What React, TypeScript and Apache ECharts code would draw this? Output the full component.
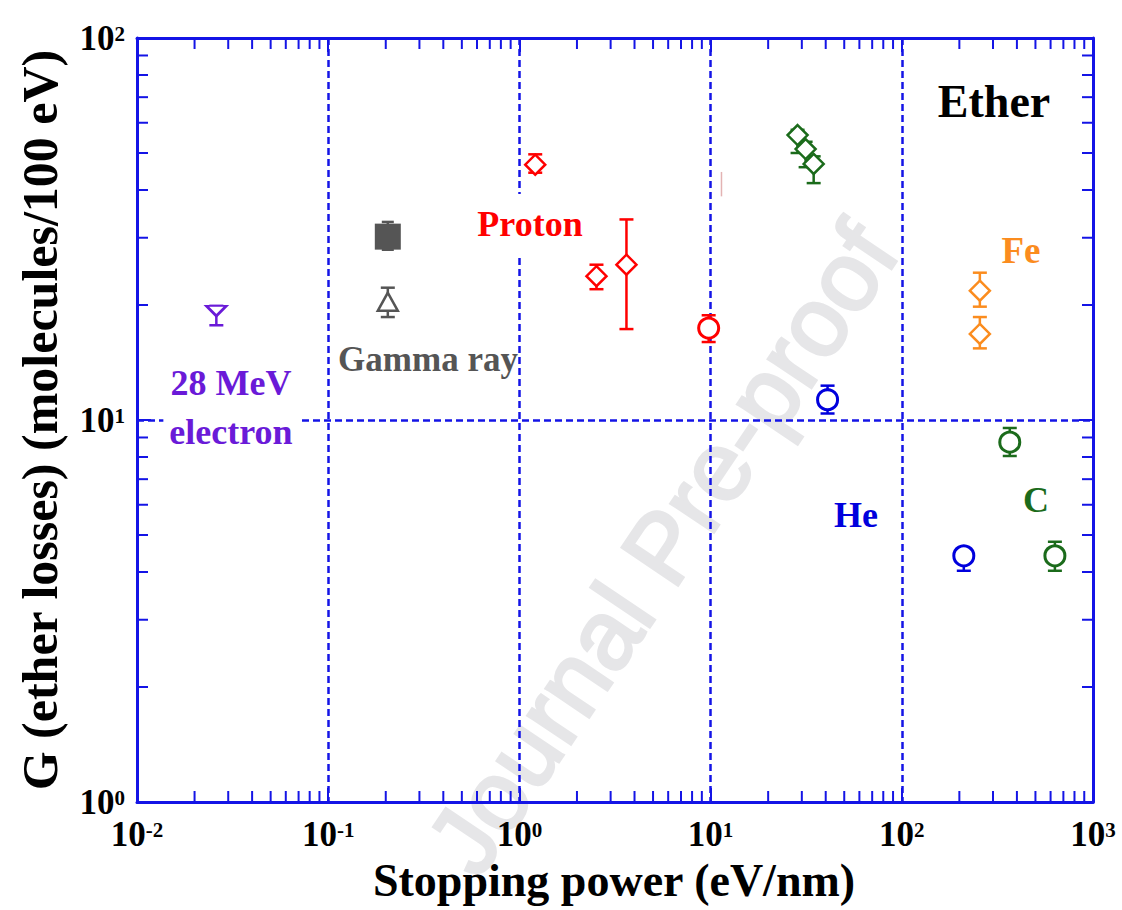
import React, { useEffect, useRef } from "react";
import * as echarts from "echarts";

// [stopping power, G value, error low, error high]
const electron = [[0.026, 19.3, 17.7, 19.9]];
const gammaSquare = [[0.205, 30.2, 27.9, 33.0]];
const gammaTriangle = [[0.205, 20.4, 18.6, 22.2]];
const protonDiamond = [
  [1.21, 46.6, 44.4, 49.6],
  [2.53, 23.8, 22.0, 25.5],
  [3.63, 25.5, 17.3, 33.5],
];
const protonCircle = [[9.77, 17.4, 16.0, 18.8]];
const carbonDiamond = [
  [28.5, 55.7, 50.0, 57.5],
  [31.4, 51.2, 45.9, 53.5],
  [34.6, 46.8, 41.7, 49.0],
];
const ironDiamond = [
  [256, 21.8, 19.8, 24.3],
  [256, 16.8, 15.4, 18.6],
];
const heliumCircle = [
  [40.9, 11.3, 10.4, 12.3],
  [211, 4.41, 4.03, 4.6],
];
const carbonCircle = [
  [367, 8.75, 8.05, 9.53],
  [632, 4.41, 4.03, 4.8],
];
const strayMark = [[11.4, 41.0, 38.5, 44.6]];

const xRange = [0.01, 1000];
const yRange = [1, 100];
const xDecades = [-2, -1, 0, 1, 2];
const yDecades = [0, 1];
const minorDigits = [2, 3, 4, 5, 6, 7, 8, 9];

const BLUE = "#1414e6";
const SERIF = "'Liberation Serif', 'Times New Roman', serif";
const SANS = "'Liberation Sans', Arial, sans-serif";

const DIAMOND = "path://M0,-10L10,0L0,10L-10,0Z";
const TRI_DOWN = "path://M-10,-5L10,-5L0,5Z";

const xMinor = xDecades.flatMap((k) => minorDigits.map((d) => [d * Math.pow(10, k)]));
const yMinor = yDecades.flatMap((k) => minorDigits.map((d) => [d * Math.pow(10, k)]));

function errorBars(name: string, data: number[][], color: string, hw: number, lw = 2.5) {
  return {
    name: name + "-err",
    type: "custom",
    xAxisIndex: 0,
    yAxisIndex: 0,
    clip: false,
    z: 3,
    data,
    encode: { x: 0, y: 1 },
    renderItem: (params: any, api: any) => {
      const x = api.value(0);
      const lo = api.coord([x, api.value(2)]);
      const hi = api.coord([x, api.value(3)]);
      const style = { stroke: color, lineWidth: lw, fill: "none" };
      const children: any[] = [
        { type: "line", shape: { x1: lo[0], y1: lo[1], x2: hi[0], y2: hi[1] }, style },
      ];
      if (hw > 0) {
        children.push(
          { type: "line", shape: { x1: lo[0] - hw, y1: lo[1], x2: lo[0] + hw, y2: lo[1] }, style },
          { type: "line", shape: { x1: hi[0] - hw, y1: hi[1], x2: hi[0] + hw, y2: hi[1] }, style }
        );
      }
      return { type: "group", children };
    },
  };
}

function markers(name: string, data: number[][], color: string, symbol: string, size: any, fill = "#ffffff", bw = 2.5) {
  return {
    name,
    type: "scatter",
    xAxisIndex: 0,
    yAxisIndex: 0,
    z: 4,
    data: data.map((d) => [d[0], d[1]]),
    symbol,
    symbolSize: size,
    itemStyle: { color: fill, borderColor: color, borderWidth: bw, opacity: 1 },
  };
}

const labelFmt = (v: number) => `{b|10}{s|${Math.round(Math.log10(v))}}`;
const labelRich = {
  b: { fontFamily: SERIF, fontWeight: "bold", fontSize: 35, color: "#000", lineHeight: 30 },
  s: { fontFamily: SERIF, fontWeight: "bold", fontSize: 21, color: "#000", verticalAlign: "top", lineHeight: 30, padding: [0, 0, 14, 0] },
};

function axisBase(extra: any) {
  return {
    type: "log",
    logBase: 10,
    axisLine: { show: true, onZero: false, lineStyle: { color: BLUE, width: 3 } },
    axisTick: { show: true, inside: true, length: 14, lineStyle: { color: BLUE, width: 2 } },
    minorTick: { show: false },
    splitLine: { show: false },
    ...extra,
  };
}

export default function App() {
  const ref = useRef<HTMLDivElement>(null);
  useEffect(() => {
    if (!ref.current) return;
    const chart = echarts.init(ref.current, undefined, { renderer: "svg" });
    const minorTickSeries = (data: number[][], dir: "x" | "y") => ({
      name: "minor-" + dir,
      type: "custom",
      xAxisIndex: 0,
      yAxisIndex: 0,
      clip: false,
      silent: true,
      z: 2,
      data,
      encode: dir === "x" ? { x: 0 } : { y: 0 },
      renderItem: (params: any, api: any) => {
        const cs = params.coordSys;
        const L = 11;
        const style = { stroke: BLUE, lineWidth: 2 };
        if (dir === "x") {
          const px = api.coord([api.value(0), yRange[0]])[0];
          return {
            type: "group",
            children: [
              { type: "line", shape: { x1: px, y1: cs.y + cs.height, x2: px, y2: cs.y + cs.height - L }, style },
              { type: "line", shape: { x1: px, y1: cs.y, x2: px, y2: cs.y + L }, style },
            ],
          };
        }
        const py = api.coord([xRange[0], api.value(0)])[1];
        return {
          type: "group",
          children: [
            { type: "line", shape: { x1: cs.x, y1: py, x2: cs.x + L, y2: py }, style },
            { type: "line", shape: { x1: cs.x + cs.width, y1: py, x2: cs.x + cs.width - L, y2: py }, style },
          ],
        };
      },
    });

    const txt = (text: string, x: number, y: number, color: string, size: number, extra: any = {}) => ({
      type: "text",
      x,
      y,
      z: 100,
      style: {
        text,
        fill: color,
        font: `bold ${size}px ${SERIF}`,
        align: "center",
        verticalAlign: "middle",
        ...extra,
      },
    });

    chart.setOption({
      animation: false,
      backgroundColor: "#ffffff",
      grid: { left: 137, right: 29, top: 38, bottom: 108, containLabel: false },
      xAxis: [
        axisBase({
          position: "bottom",
          min: xRange[0],
          max: xRange[1],
          splitLine: { show: true, lineStyle: { color: BLUE, type: [7, 4], width: 2.5 } },
          axisLabel: { margin: 17, formatter: labelFmt, rich: labelRich },
        }),
        axisBase({ position: "top", min: xRange[0], max: xRange[1], axisLabel: { show: false } }),
      ],
      yAxis: [
        axisBase({
          position: "left",
          min: yRange[0],
          max: yRange[1],
          splitLine: { show: true, lineStyle: { color: BLUE, type: [7, 4], width: 2.5 } },
          axisLabel: { margin: 12, formatter: labelFmt, rich: labelRich },
        }),
        axisBase({ position: "right", min: yRange[0], max: yRange[1], axisLabel: { show: false } }),
      ],
      graphic: [
        {
          type: "text",
          x: 662,
          y: 548,
          z: -10,
          rotation: (56 * Math.PI) / 180,
          style: {
            text: "Journal Pre-proof",
            fill: "#e6e6e8",
            font: `98px ${SANS}`,
            align: "center",
            verticalAlign: "middle",
            stroke: "#e6e6e8",
            lineWidth: 3,
          },
        },
        txt("Ether", 994, 101, "#000000", 46),
        txt("Proton", 530, 224, "#ff0000", 36, { backgroundColor: "#ffffff", padding: [12, 2, 12, 2] }),
        txt("Gamma ray", 427, 359, "#555555", 35, { backgroundColor: "#ffffff", padding: [10, 0, 12, 2] }),
        txt("28 MeV\nelectron", 232, 407, "#6a1ad8", 36, { backgroundColor: "#ffffff", padding: [0, 8, 0, 6], lineHeight: 49 }),
        txt("He", 856, 515, "#0000dd", 36),
        txt("C", 1036, 500, "#1b6b1b", 36),
        txt("Fe", 1021, 250, "#fb8c1e", 37),
        {
          type: "text",
          x: 614,
          y: 880,
          z: 100,
          style: { text: "Stopping power (eV/nm)", fill: "#000", font: `bold 46px ${SERIF}`, align: "center", verticalAlign: "middle" },
        },
        {
          type: "text",
          x: 40,
          y: 420,
          z: 100,
          rotation: Math.PI / 2,
          style: { text: "G (ether losses) (molecules/100 eV)", fill: "#000", font: `bold 50px ${SERIF}`, align: "center", verticalAlign: "middle" },
        },
      ],
      series: [
        minorTickSeries(xMinor, "x"),
        minorTickSeries(yMinor, "y"),
        errorBars("stray", strayMark, "#e3b3b3", 0, 1.5),
        errorBars("electron", electron, "#6a1ad8", 7),
        markers("electron", electron, "#6a1ad8", TRI_DOWN, [20, 10]),
        errorBars("gammaSquare", gammaSquare, "#555555", 6),
        markers("gammaSquare", gammaSquare, "#555555", "rect", [26, 26], "#555555", 0),
        errorBars("gammaTriangle", gammaTriangle, "#555555", 7),
        markers("gammaTriangle", gammaTriangle, "#555555", "triangle", [20, 18]),
        errorBars("protonDiamond", protonDiamond, "#ff0000", 7),
        markers("protonDiamond", protonDiamond, "#ff0000", DIAMOND, [20, 20]),
        errorBars("protonCircle", protonCircle, "#ff0000", 7),
        markers("protonCircle", protonCircle, "#ff0000", "circle", 20, "#ffffff", 3),
        errorBars("carbonDiamond", carbonDiamond, "#1b6b1b", 7),
        markers("carbonDiamond", carbonDiamond, "#1b6b1b", DIAMOND, [20, 20]),
        errorBars("ironDiamond", ironDiamond, "#fb8c1e", 7),
        markers("ironDiamond", ironDiamond, "#fb8c1e", DIAMOND, [20, 20]),
        errorBars("heliumCircle", heliumCircle, "#0000dd", 7),
        markers("heliumCircle", heliumCircle, "#0000dd", "circle", 20, "#ffffff", 3),
        errorBars("carbonCircle", carbonCircle, "#1b6b1b", 7),
        markers("carbonCircle", carbonCircle, "#1b6b1b", "circle", 20, "#ffffff", 3),
      ],
    });
    return () => chart.dispose();
  }, []);
  return <div ref={ref} style={{ position: "fixed", left: 0, top: 0, width: 1122, height: 910, background: "#fff" }} />;
}
